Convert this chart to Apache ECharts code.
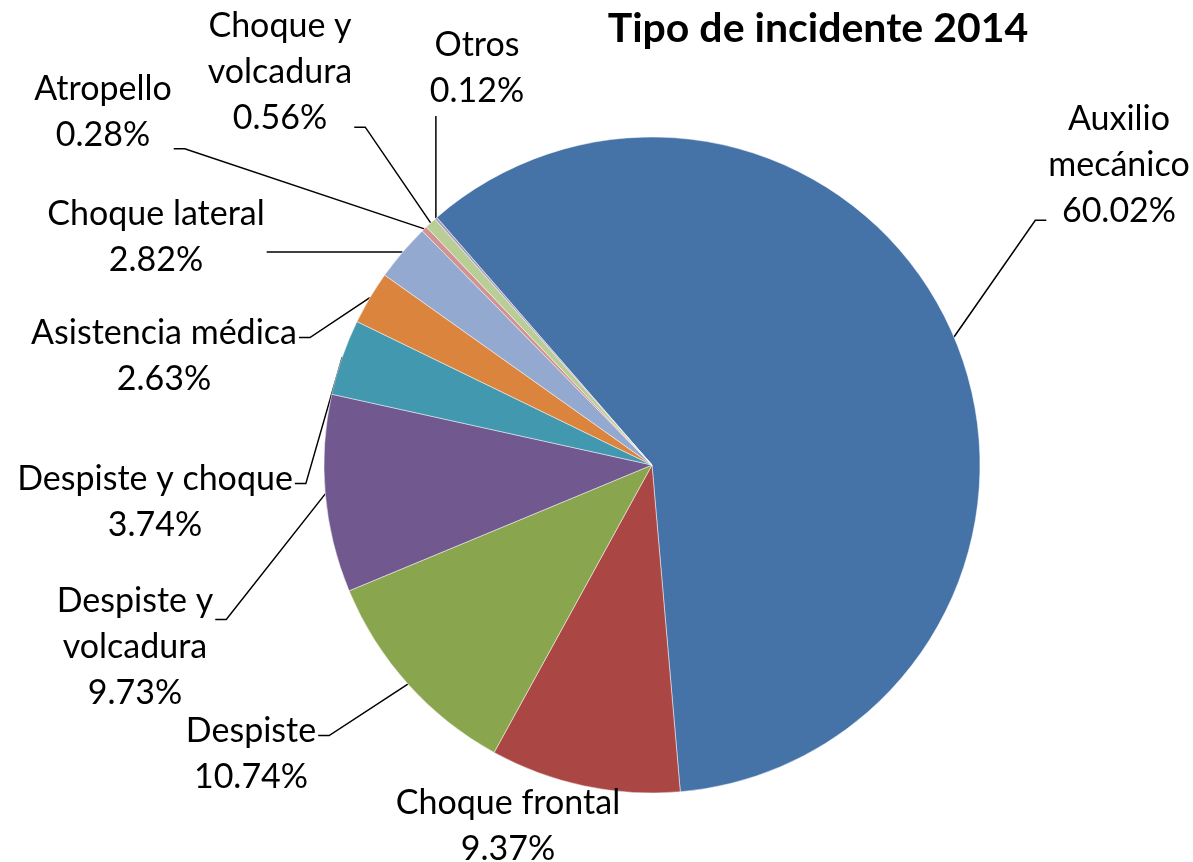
<!DOCTYPE html>
<html>
<head>
<meta charset="utf-8">
<script src="https://cdn.jsdelivr.net/npm/echarts@6/dist/echarts.min.js"></script>
<style>
html, body { margin: 0; padding: 0; background: #fff; }
#main { width: 1193px; height: 862px; }
</style>
</head>
<body>
<div id="main"></div>
<script>
var categories = ['Auxilio mecánico', 'Choque frontal', 'Despiste', 'Despiste y volcadura',
	'Despiste y choque', 'Asistencia médica', 'Choque lateral', 'Atropello',
	'Choque y volcadura', 'Otros'];
var percents = [60.02, 9.37, 10.74, 9.73, 3.74, 2.63, 2.82, 0.28, 0.56, 0.12];
// names that Excel wrapped onto two lines
var wrapped = ['Auxilio mecánico', 'Choque y volcadura', 'Despiste y volcadura'];

var colors = ['#4572A7', '#AA4643', '#89A54E', '#71588F', '#4198AF',
	'#DB843D', '#93A9CF', '#D19392', '#B9CD96', '#A99BBD'];

// centre of each label block, in px
var labelPos = [[1119, 165], [508, 826], [251, 754], [135, 647], [155, 502],
	[164, 356], [156, 237], [103, 112], [280, 72], [477, 68]];

var chart = echarts.init(document.getElementById('main'));

var pieData = categories.map(function (name, i) {
	return { name: name, value: percents[i] };
});

var option = {
	animation: false,
	color: colors,
	title: {
		text: 'Tipo de incidente 2014',
		left: 813,
		top: 3,
		textAlign: 'center',
		textStyle: {
			fontFamily: 'Lato',
			fontWeight: 'bold',
			fontSize: 41,
			color: '#000'
		}
	},
	series: [{
		type: 'pie',
		center: [652, 465],
		radius: [0, 328],
		startAngle: 131,
		clockwise: true,
		avoidLabelOverlap: false,
		itemStyle: {
			borderColor: 'rgba(255,255,255,0.6)',
			borderWidth: 0.8
		},
		label: {
			show: true,
			position: 'outside',
			fontFamily: 'Lato',
			fontSize: 34,
			lineHeight: 46,
			color: '#000',
			align: 'center',
			formatter: function (p) {
				var name = p.name;
				if (wrapped.indexOf(name) >= 0) {
					var k = name.lastIndexOf(' ');
					name = name.slice(0, k) + '\n' + name.slice(k + 1);
				}
				return name + '\n' + p.value.toFixed(2) + '%';
			}
		},
		labelLine: {
			show: true,
			lineStyle: { color: '#000', width: 1.5 }
		},
		labelLayout: function (p) {
			var i = p.dataIndex;
			var w = p.labelRect.width, h = p.labelRect.height;
			var cx = labelPos[i][0], cy = labelPos[i][1];
			var left = cx - w / 2, right = cx + w / 2, top = cy - h / 2, bottom = cy + h / 2;
			var a = p.labelLinePoints[0];
			var pts;
			if (a[0] >= left && a[0] <= right && a[1] >= top && a[1] <= bottom) {
				// anchor sits in the label: no leader
				pts = [a, a, a];
			} else if (a[0] >= left && a[0] <= right) {
				var ey = a[1] > bottom ? bottom + 2 : top - 2;
				pts = [a, [a[0], ey], [a[0], ey]];
			} else {
				var dir = a[0] > right ? 1 : -1;
				var gx = dir > 0 ? a[0] - right : left - a[0];
				var gy = a[1] > bottom ? a[1] - bottom : 0;
				if (gy > 1.25 * gx) {
					var ey2 = bottom + 4;
					pts = [a, [cx + dir * 11, ey2], [cx, ey2]];
				} else {
					var ex = dir > 0 ? right + 2 : left - 2;
					var ey3 = Math.min(Math.max(a[1], top + 0.3 * h), bottom - 0.1 * h);
					pts = [a, [ex + dir * 11, ey3], [ex, ey3]];
				}
			}
			return {
				x: cx,
				y: cy,
				align: 'center',
				verticalAlign: 'middle',
				labelLinePoints: pts
			};
		},
		data: pieData
	}]
};

chart.setOption(option);
</script>
</body>
</html>
